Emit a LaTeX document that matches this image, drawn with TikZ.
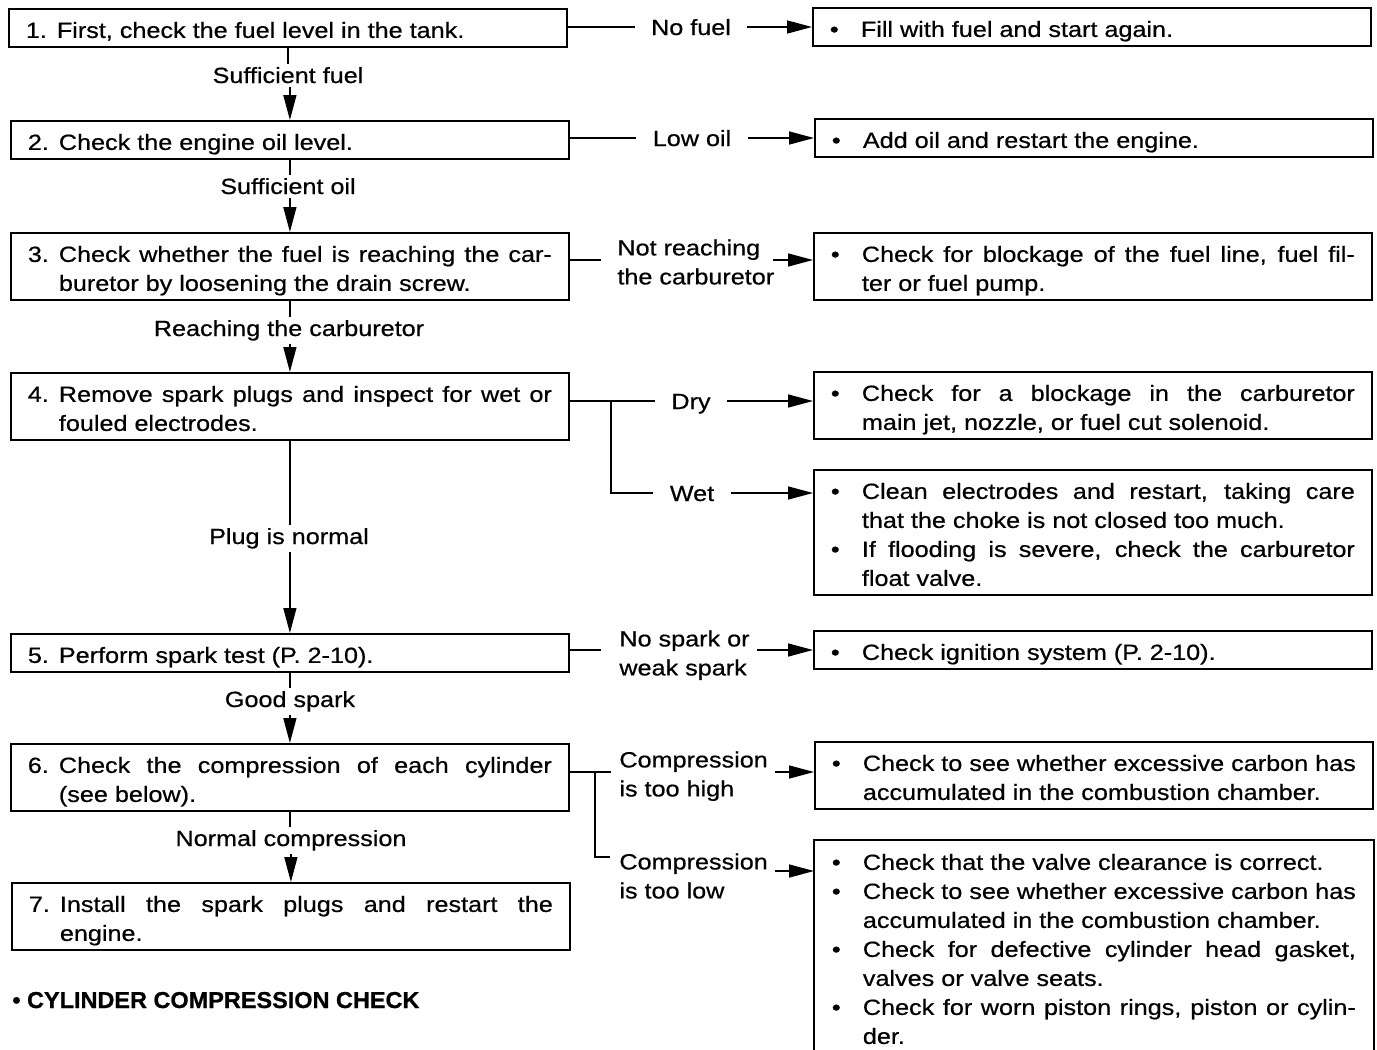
\documentclass[tikz,border=0pt]{standalone}
\usepackage{fontspec}
\setmainfont{Liberation Sans}[FakeStretch=1.145,FakeBold=0.6]
\newfontfamily\hdfont{Liberation Sans}[FakeStretch=1.02,FakeBold=0.8]
\usetikzlibrary{arrows.meta,calc}
\newlength\hng \setlength\hng{15.5pt}
\newlength\rw \setlength\rw{246.5pt}
\newcommand\fsz{\fontsize{11pt}{14.5pt}\selectfont}
\newcommand\bst{\rule[-4.5pt]{0pt}{19pt}}
\newcommand\BX[1]{\vbox{\baselineskip=14.5pt\lineskiplimit=-100pt\lineskip=0pt\hrule height0pt width262pt #1}}
\newcommand\Lj[2]{\hbox{\bst\makebox[\hng][l]{#1}\makebox[\rw][s]{#2}}}
\newcommand\Ln[2]{\hbox{\bst\makebox[\hng][l]{#1}#2}}
\newcommand\Cj[1]{\hbox{\bst\hspace*{\hng}\makebox[\rw][s]{#1}}}
\newcommand\Cn[1]{\hbox{\bst\hspace*{\hng}#1}}
\newcommand\TL[2]{\vbox{\baselineskip=14.5pt\lineskiplimit=-100pt\lineskip=0pt\hbox{\bst#1}\hbox{\bst#2}}}
\tikzset{
  box/.style={draw, line width=0.9pt, anchor=north west, inner xsep=8.5pt, inner ysep=0pt, font=\fsz},
  obox/.style={box, draw=none},
  hlab/.style={inner xsep=8pt, inner ysep=0pt, text height=8pt, text depth=0pt, anchor=base, font=\fsz},
  vlab/.style={inner xsep=2pt, inner ysep=1.5pt, anchor=base, font=\fsz},
  tlab/.style={inner sep=0pt, anchor=north west, font=\fsz},
  con/.style={line width=0.75pt},
  arr/.style={con, -{Triangle[length=12.5pt,width=6.5pt]}},
}
\begin{document}
\begin{tikzpicture}[x=0.5pt,y=-0.5pt]
\fill[white] (0,0) rectangle (1377,1050);
\useasboundingbox (0,0) rectangle (1377,1050);

% left column
\node[box] (b1) at (8,8) {\BX{\Ln{1.}{First, check the fuel level in the tank.}}};
\node[box] (b2) at (10,120) {\BX{\Ln{2.}{Check the engine oil level.}}};
\node[box] (b3) at (10,232) {\BX{\Lj{3.}{Check whether the fuel is reaching the car-}\Cn{buretor by loosening the drain screw.}}};
\node[box] (b4) at (10,372) {\BX{\Lj{4.}{Remove spark plugs and inspect for wet or}\Cn{fouled electrodes.}}};
\node[box] (b5) at (10,633) {\BX{\Ln{5.}{Perform spark test (P. 2-10).}}};
\node[box] (b6) at (10,743) {\BX{\Lj{6.}{Check the compression of each cylinder}\Cn{(see below).}}};
\node[box] (b7) at (11,882) {\BX{\Lj{7.}{Install the spark plugs and restart the}\Cn{engine.}}};

% right column
\node[box] (r1) at (812,7) {\BX{\Ln{•}{Fill with fuel and start again.}}};
\node[box] (r2) at (814,118) {\BX{\Ln{•}{Add oil and restart the engine.}}};
\node[box] (r3) at (813,232) {\BX{\Lj{•}{Check for blockage of the fuel line, fuel fil-}\Cn{ter or fuel pump.}}};
\node[box] (r4) at (813,371) {\BX{\Lj{•}{Check for a blockage in the carburetor}\Cn{main jet, nozzle, or fuel cut solenoid.}}};
\node[box] (r5) at (813,469) {\BX{\Lj{•}{Clean electrodes and restart, taking care}\Cn{that the choke is not closed too much.}\Lj{•}{If flooding is severe, check the carburetor}\Cn{float valve.}}};
\node[box] (r6) at (813,630) {\BX{\Ln{•}{Check ignition system (P. 2-10).}}};
\node[box] (r7) at (814,741) {\BX{\Lj{•}{Check to see whether excessive carbon has}\Cn{accumulated in the combustion chamber.}}};
\node[obox] (r8) at (814,840) {\BX{\Ln{•}{Check that the valve clearance is correct.}\Lj{•}{Check to see whether excessive carbon has}\Cn{accumulated in the combustion chamber.}\Lj{•}{Check for defective cylinder head gasket,}\Cn{valves or valve seats.}\Lj{•}{Check for worn piston rings, piston or cylin-}\Cn{der.}}};
\draw[line width=0.9pt] (r8.south west) -- (r8.north west) -- (r8.north east) -- (r8.south east);

% vertical labels and connectors
\node[vlab] (v12) at (288,83) {Sufficient fuel};
\node[vlab] (v23) at (288,194) {Sufficient oil};
\node[vlab] (v34) at (289,336) {Reaching the carburetor};
\node[vlab] (v45) at (289,544) {Plug is normal};
\node[vlab] (v56) at (290,707) {Good spark};
\node[vlab] (v67) at (291,846) {Normal compression};
\draw[con] (b1.south) -- (b1.south |- v12.north);
\draw[arr] (b2.north |- v12.south) -- (b2.north);
\draw[con] (b2.south) -- (b2.south |- v23.north);
\draw[arr] (b3.north |- v23.south) -- (b3.north);
\draw[con] (b3.south) -- (b3.south |- v34.north);
\draw[arr] (b4.north |- v34.south) -- (b4.north);
\draw[con] (b4.south) -- (b4.south |- v45.north);
\draw[arr] (b5.north |- v45.south) -- (b5.north);
\draw[con] (b5.south) -- (b5.south |- v56.north);
\draw[arr] (b6.north |- v56.south) -- (b6.north);
\draw[con] (b6.south) -- (b6.south |- v67.north);
\draw[arr] (b7.north |- v67.south) -- (b7.north);

% single-line horizontal labels
\node[hlab] (h1) at (691,35) {No fuel};
\node[hlab] (h2) at (692,146) {Low oil};
\node[hlab] (hd) at (691,409) {Dry};
\node[hlab] (hw) at (692,501) {Wet};
\draw[con] (h1.west -| b1.east) -- (h1.west);
\draw[arr] (h1.east) -- (h1.east -| r1.west);
\draw[con] (h2.west -| b2.east) -- (h2.west);
\draw[arr] (h2.east) -- (h2.east -| r2.west);
\coordinate (br4) at (611,401);
\draw[con] (hd.west -| b4.east) -- (hd.west);
\draw[arr] (hd.east) -- (hd.east -| r4.west);
\draw[con] (br4) |- (hw.west);
\draw[arr] (hw.east) -- (hw.east -| r5.west);

% two-line labels
\node[tlab] (t3) at (617,226) {\TL{Not reaching}{the carburetor}};
\node[tlab] (t5) at (619,617) {\TL{No spark or}{weak spark}};
\node[tlab] (t6) at (619,738) {\TL{Compression}{is too high}};
\node[tlab] (t7) at (619,840) {\TL{Compression}{is too low}};
\coordinate (s3) at (601,260); \coordinate (e3) at (773,260);
\coordinate (s5) at (601,650); \coordinate (e5) at (757,650);
\coordinate (s6) at (611,772); \coordinate (e6) at (775,772);
\coordinate (br6) at (595,772); \coordinate (s7) at (610,857); \coordinate (e7) at (775,871);
\draw[con] (s3 -| b3.east) -- (s3);
\draw[arr] (e3) -- (e3 -| r3.west);
\draw[con] (s5 -| b5.east) -- (s5);
\draw[arr] (e5) -- (e5 -| r6.west);
\draw[con] (s6 -| b6.east) -- (s6);
\draw[arr] (e6) -- (e6 -| r7.west);
\draw[con] (br6) |- (s7);
\draw[arr] (e7) -- (e7 -| r8.west);

% heading
\node[anchor=base west, inner sep=0pt, font=\hdfont\bfseries\fontsize{11.5pt}{13pt}\selectfont] (head) at (12,1008) {• CYLINDER COMPRESSION CHECK};
\end{tikzpicture}
\end{document}
